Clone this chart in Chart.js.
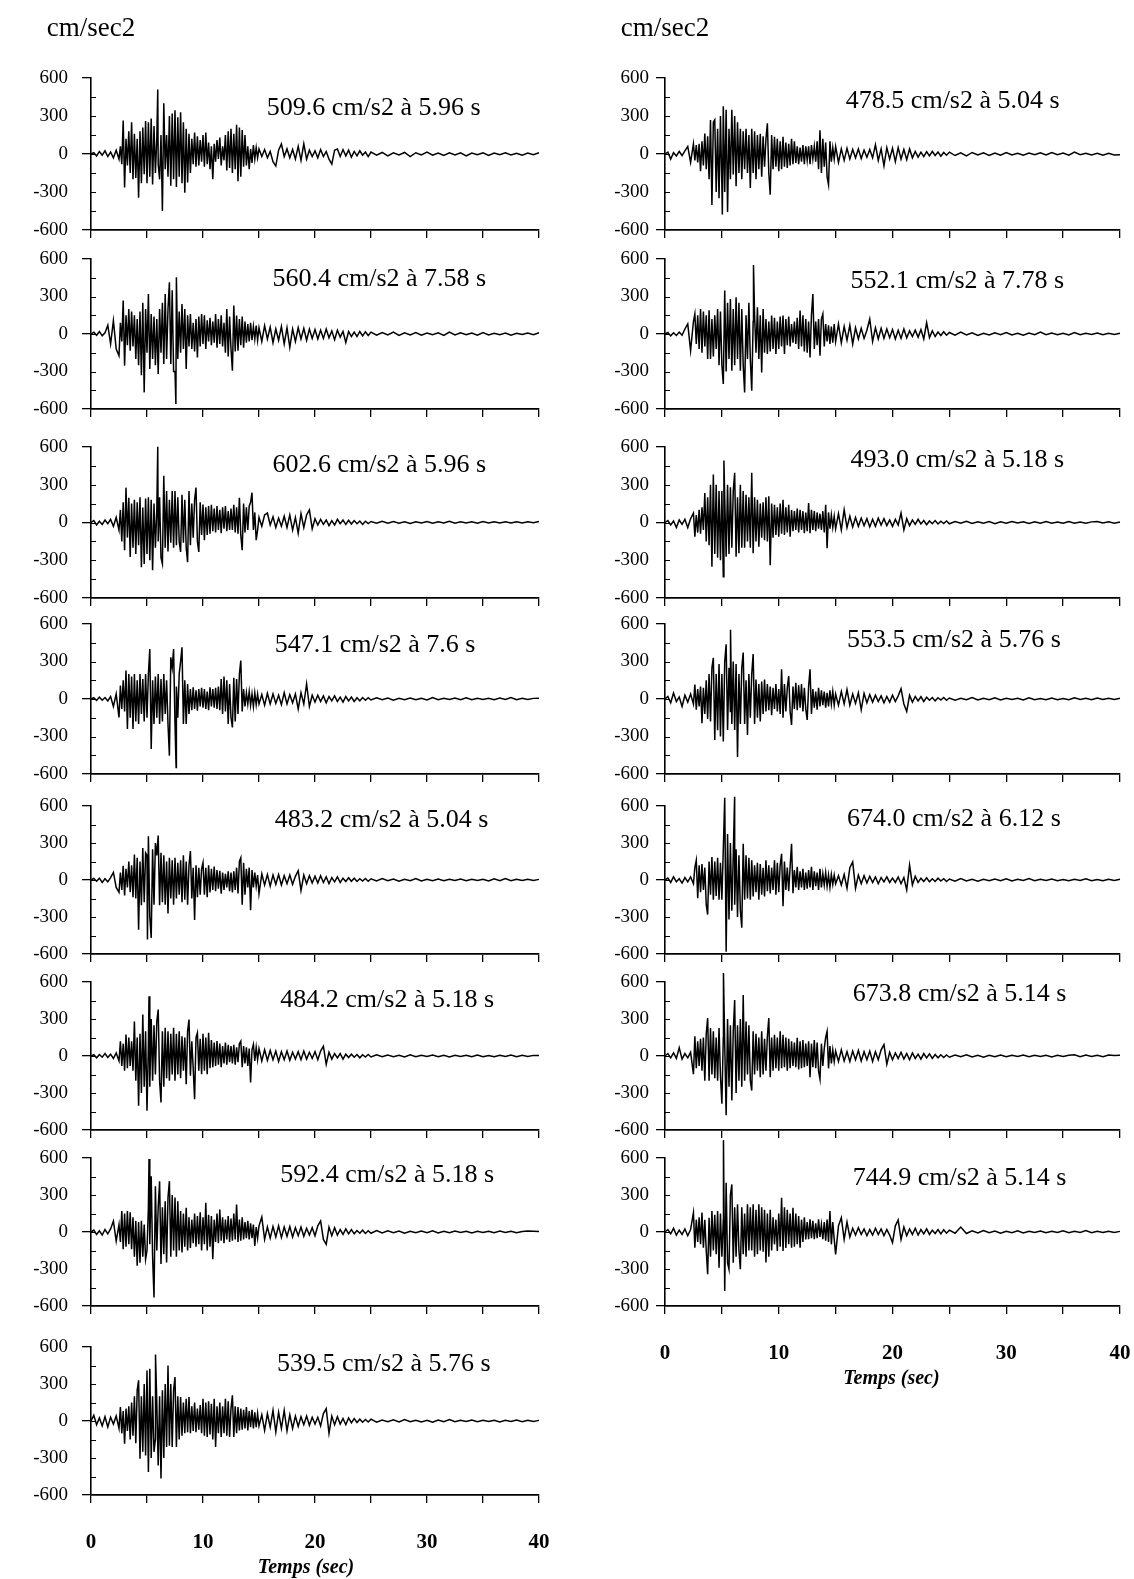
<!DOCTYPE html>
<html>
<head>
<meta charset="utf-8">
<title>Accélérogrammes</title>
<script src="https://cdn.jsdelivr.net/npm/chart.js@4.4.0/dist/chart.umd.min.js"></script>
<style>
  html, body { margin: 0; padding: 0; background: #fff; }
  #page { position: relative; width: 1134px; height: 1579px; overflow: hidden; background: #fff; }
  .panel { position: absolute; }
  .panel canvas { display: block; }
</style>
</head>
<body>
<div id="page"></div>
<script>
// ---- Sampling of the records: [start, end, step] in seconds ----
const sampleSegments = [[0, 2.5, 0.25], [2.5, 15, 0.125], [15, 25, 0.25], [25, 40, 0.5]];

// ---- Accelerations (cm/s2), one list per sampling segment ----
const accelL1 = [
  [0, 10, -15, 20, -10, 25, -20, 15, -30, 30],
  [-40, 60, -80, 265, -265, 120, -90, 180, -150, 250, -200, 160, -190, 120, -345, 180, -230, 210, -160, 260,
   -230, 250, -180, 280, -240, 220, -150, 120, -80, -200, 150, -450, 400, -120, 150, -180, 300, -250, 320, -200,
   345, -260, 290, -180, 330, -230, 250, -305, 200, -225, 160, -150, 120, -80, 170, -100, 140, -90, 110, -60,
   150, -100, 170, -80, 90, -120, 60, -200, 80, -60, 110, -40, 130, -90, 60, -50, 150, -130, 180, -110,
   200, -150, 160, -120, 230, -215, 210, -180, 190, -100, 150, -90, 60, -120, 40, -70, 70, -40, 50, -30],
  [40, -20, 35, -30, 20, -60, -95, 30, 80, -20, 40, -30, 35, -40, 60, -50, 80, -40, 30, -20,
   25, -30, 35, -20, 20, -40, -80, 30, 40, -20, 35, -15, 30, -25, 20, -15, 25, -10, 15, -20],
  [15, -10, 12, -15, 10, -8, 12, -20, 10, -8, 15, -10, 8, -12, 10, -8, 10, -15, 8, -6, 10, -12, 8, -5, 10, -8, 6, -10, 8, -5, 10]
];
const accelL2 = [
  [0, 15, -10, 20, -15, 10, 70, -80, 107, -120],
  [-173, 90, -60, 267, -253, 150, -90, 200, -133, 180, -100, 150, -200, 120, -250, 180, -330, 250, -467, 200,
   -150, 320, -280, 160, -200, 140, -250, 120, -320, 200, -150, 250, -240, 320, -200, 200, 413, -240, 350, -300,
   -300, 453, -200, 180, -150, 240, -120, 200, -280, 150, -100, 160, -120, 90, -140, 120, -187, 140, -100, 160,
   -80, 150, -120, 110, -60, 130, -90, 100, -70, 160, -110, 120, -80, 150, -100, 90, -150, 200, -180, 140,
   -120, -293, 227, -140, 147, -133, 120, -90, 140, -110, 100, -70, 80, -60, 90, -50, 60, -40, 67, -50],
  [50, -60, 67, -40, 55, -70, 40, -50, 60, -80, 50, -107, 40, -60, 50, -40, 45, -50, 40, -35,
   35, -40, 30, -35, 40, -30, 25, -45, 30, -25, 20, -67, 20, -20, 15, -20, 20, -15, 18, -12],
  [15, -10, 12, -8, 15, -12, 10, -8, 12, -10, 8, -6, 10, -12, 15, -8, 10, -6, 8, -10, 12, -8, 6, -5, 8, -10, 6, -4, 8, -5, 10]
];
const accelL3 = [
  [0, 15, -20, 10, -15, 20, -10, 25, -30, 40],
  [-60, 100, -150, 160, -220, 277, -120, 196, -274, 150, -200, 180, -250, 160, -180, 200, -355, 120, -330, 190,
   -250, 200, -300, 180, -380, 150, -200, 100, -150, 200, -280, -328, 371, -200, 250, -230, 180, -160, 250, -200,
   250, -180, 200, -150, -234, 220, -160, 180, -200, -315, 250, -180, 150, -120, 180, 277, -150, -234, 160, -100,
   143, -140, 120, -100, 130, -90, 140, -70, 110, -80, 130, -60, 100, -86, 120, -50, 130, -70, 90, -60,
   110, -60, 140, -80, 120, -90, 196, -100, -220, 150, -80, 120, -60, 130, 160, 237, -60, 80, -140, -60],
  [40, -30, 60, 75, -20, 45, -40, 35, -30, 50, -40, 60, -60, 40, -86, 70, -40, 60, 100, -50,
   30, -20, 25, -15, 20, -25, 15, -20, 25, -10, 20, -15, 18, -12, 15, -10, 12, -15, 10, -8],
  [8, -6, 10, -5, 8, -6, 5, -8, 6, -4, 8, -5, 6, -4, 10, -5, 6, -4, 5, -6, 8, -4, 5, -3, 6, -4, 5, -3, 6, -2, 8]
];
const accelL4 = [
  [0, 10, -12, 15, -10, 12, -15, 20, -60, 40],
  [-147, 107, -80, 150, -100, 227, -240, 200, -150, 180, -240, 200, -180, 150, -200, 200, -120, 160, -180, 200,
   -150, 200, 400, -400, 150, -200, 180, -150, 200, -200, 160, -180, 200, -120, 150, -200, -453, 333, 250, 400,
   -200, 100, -150, 200, 300, 413, -200, 150, -200, 120, -120, 80, -90, 93, -80, 70, -93, 80, -60, 90,
   -70, 80, -80, 60, -90, 93, -60, 80, -70, 90, -80, 100, -90, 160, -120, 180, -100, 150, -200, 120,
   -150, -227, 170, -180, 160, -120, 200, 307, -100, 80, -60, 50, -40, 60, -50, 40, -60, 50, -45, 40],
  [-40, 35, -50, 45, -40, 40, -35, 30, -45, 50, -40, 35, -30, 40, -80, 50, -40, 120, -60, 30,
   -25, 30, -20, 25, -30, 20, -15, 25, -20, 15, -25, 20, -15, 15, -20, 10, -15, 12, -10, 10],
  [-8, 10, -6, 8, -10, 6, -5, 8, -6, 5, -8, 12, -5, 6, -4, 8, -6, 10, -5, 6, -4, 5, -6, 8, -4, 12, -5, 6, -4, 5, 6]
];
const accelL5 = [
  [0, 12, -10, 15, -20, 10, -15, 20, 61, -60],
  [-100, 60, -80, 115, -125, 90, -60, 150, -100, 120, -140, 207, -150, 180, -404, 150, -205, 260, -180, 220,
   200, 354, -300, -470, 250, -200, 300, 200, 360, -205, 220, -180, 200, -200, 150, -271, 180, -150, 160, -200,
   180, -150, 140, -120, 160, -180, 200, -160, 150, -200, 120, 234, -150, 100, -325, 120, -140, 100, -120, 90,
   140, -120, 100, -140, 120, -100, 90, -80, 110, -90, 80, -70, 75, -112, 60, -80, 50, -60, 70, -90,
   60, -100, 70, -80, 100, -110, 150, 180, -200, 140, -120, 90, -60, 100, -245, 80, -60, 61, -50, 40],
  [-112, 50, -40, 45, -50, 40, -35, 45, -40, 35, -30, 40, -35, 30, 75, -85, 40, -30, 35, -25,
   30, -25, 35, -20, 25, -30, 20, -15, 25, -20, 15, -12, 18, -10, 15, -12, 10, -8, 12, -10],
  [10, -8, 12, -6, 8, -10, 6, -5, 12, -8, 6, -5, 8, -6, 5, -4, 8, -6, 5, -4, 6, -8, 10, -5, 12, -6, 5, -4, 6, -4, 5]
];
const accelL6 = [
  [0, 10, -15, 12, -10, 20, -12, 15, -20, 25],
  [-40, 120, -80, 100, -120, 175, -100, 150, -80, 120, -120, 280, -200, 150, -403, 180, -300, 336, -250, 200,
   -444, 100, -250, 300, -200, 250, -150, 280, 377, -200, -377, 200, -250, 229, -180, 200, -200, 180, -150, 229,
   -200, 180, -150, 200, -180, 160, -120, 150, -229, 200, 296, -160, 120, -100, -350, 150, 188, -120, 140, -148,
   180, -120, 150, -148, 188, -100, 130, -90, 110, -80, 121, -70, 100, -90, 80, -60, 110, -70, 90, -50,
   80, -60, 90, -70, 70, -50, 100, 121, -90, 80, -60, 70, -80, 60, -215, 50, 94, -40, 70, -30],
  [60, -40, 50, -35, 45, -30, 40, -45, 35, -30, 40, -35, 30, -25, 35, -30, 40, -25, 30, -20,
   35, -30, 40, 80, -67, 30, -25, 20, -15, 20, -25, 15, -12, 15, -10, 12, -15, 10, -8, 12],
  [-8, 10, -6, 8, -5, 6, -8, 10, -6, 5, -4, 8, -6, 5, -8, 6, -4, 5, -6, 8, -5, 4, -6, 5, -4, 8, -5, 6, -4, 5, 4]
];
const accelL7 = [
  [0, 15, -20, 10, -25, 20, -15, 25, 89, -73],
  [60, -80, 170, -140, 150, -120, 170, -100, 160, -140, 120, -200, 90, -274, 80, -250, 90, -200, 60, -220,
   -150, 200, -100, 452, -200, -530, 371, -150, 200, 412, -260, 200, -180, 250, -247, 280, 412, -200, 300, -150,
   280, -200, 250, -150, 170, -167, 150, -120, 196, -150, 120, -130, 100, -90, 150, -120, 130, -100, 160, -150,
   120, -100, 237, -150, 140, -120, 130, -220, 100, -80, 150, -90, 183, -70, 120, -90, 100, -60, 130, -80,
   110, -70, 150, -60, 223, -80, 100, -70, 120, -60, 80, -50, 90, -60, 70, -50, 60, -113, 40, -50],
  [50, 121, -60, 40, -50, 45, -40, 50, -45, 40, -35, 45, -40, 35, -30, 40, -35, 30, -25, 35,
   -30, 50, 90, -60, -100, 40, -30, 35, -25, 20, -20, 25, -15, 20, -15, 12, -10, 15, -12, 10],
  [-10, 12, -8, 10, -6, 8, -10, 6, -5, 8, -6, 10, -8, 6, -5, 8, -4, 6, -8, 5, -4, 6, -5, 8, -4, 6, -5, 4, 8, 6, 5]
];
const accelL8 = [
  [0, 46, -30, 25, -40, 35, -49, 30, -25, 40],
  [-60, 113, -100, 80, -184, 100, -80, 120, -150, 150, -120, 200, -180, 250, 330, -305, 200, -250, 300, -280,
   410, -413, 424, -300, 200, -250, -150, 150, -360, 200, -467, 250, -300, 300, -210, 450, -200, 300, -210, 250,
   356, -210, 200, -150, 194, -120, 150, -100, 180, -90, 194, -100, 120, -80, 150, -90, 100, -70, 130, -100,
   181, -120, 150, -130, 160, -110, 140, -150, 181, -210, 120, -100, 150, -130, 120, -100, 180, -120, 160, -130,
   100, 208, -130, 120, -100, 113, -76, 100, -70, 90, -60, 113, -76, 80, -50, 90, -60, 70, -50, 60],
  [-40, 50, -76, 60, -50, 86, -89, 70, -60, 86, -80, 50, -60, 40, -45, 35, -30, 40, -35, 30,
   -25, 30, -40, 60, 100, -100, 40, -30, 35, -25, 20, -30, 25, -15, 20, -12, 15, -10, 12, -8],
  [15, -10, 8, -6, 10, -8, 12, -6, 5, -8, 6, -10, 8, -5, 12, -6, 5, -4, 8, -6, 5, -4, 6, -8, 5, -4, 8, -5, 6, -4, 5]
];
const accelR1 = [
  [0, 15, -40, 10, -15, 20, -12, 25, 60, -67],
  [80, -50, 70, -67, 80, -135, 100, -90, 161, -120, 140, -200, 269, -403, 250, 269, -300, 200, -350, 300,
   -250, 376, -300, 350, -457, 200, -200, 350, -161, 300, -255, 250, -150, 200, -200, 180, -120, 200, -150, 150,
   -269, 200, -150, 180, -200, 150, -120, 160, -180, 140, -100, 120, 242, -150, -322, 150, -120, 135, -100, 120,
   -135, 100, -120, 135, -100, 90, -110, 80, -90, 120, -80, 100, -70, 60, -80, 50, -60, 70, -80, 60,
   -50, 60, -80, 70, -40, 60, -60, 100, -120, 188, -150, 120, -100, 90, -180, -242, 100, -60, 50, -40],
  [60, -67, 40, -50, 45, -40, 35, -30, 40, -35, 30, -25, 35, -30, 73, -50, 40, -94, 50, -40,
   45, -60, 50, -40, 35, -45, 40, -30, 20, -25, 15, -20, 18, -15, 20, -12, 15, -18, 12, -10],
  [15, -12, 10, -15, 12, -8, 10, -12, 8, -10, 12, -8, 6, -10, 8, -6, 10, -8, 12, -6, 8, -10, 15, -5, 6, -8, 5, -10, 6, -8, -5]
];
const accelR2 = [
  [0, 12, -15, 10, -12, 15, -10, 40, 80, -133],
  [100, 160, -80, 150, -120, 200, -150, 180, -100, 150, -200, 190, -200, 120, -180, 150, -120, 200, -250, 180,
   -250, -400, 347, -300, 250, -200, 280, -293, 200, -250, 293, -200, 250, -293, 200, -250, -467, 150, -200, 250,
   -200, -453, 100, 150, -150, 213, -200, 150, -307, 200, -150, 120, -160, 100, -140, 147, -120, 130, -160, 100,
   -120, 140, -100, 147, -160, 120, -90, 140, -100, 80, -70, 100, -80, 130, -120, 187, -100, 150, -140, 120,
   -150, 100, -187, 150, 320, -120, 100, -90, 120, -173, 120, 160, -100, 80, -60, 70, -80, 60, -70, 80],
  [-60, 80, -70, 60, -50, 70, -80, 50, -40, 45, -35, 30, 120, -60, 50, -40, 45, -35, 40, -30,
   35, -40, 30, -35, 40, -30, 25, -20, 30, -25, 35, -40, 90, -30, 25, -20, 15, -12, 18, -10],
  [12, -10, 15, -8, 10, -12, 6, -8, 10, -5, 12, -8, 6, -10, 8, -5, 15, -6, 8, -5, 6, -8, 12, -6, 5, -4, 8, -6, 5, -4, 6]
];
const accelR3 = [
  [0, 15, -20, 12, -40, 20, -15, 25, -40, 30],
  [75, -112, 60, -80, 100, -90, 120, -60, 235, -150, 200, -180, 300, -352, 382, -250, 300, -280, 250, -300,
   250, -432, 200, -272, 300, -250, 280, -200, 250, 395, -272, 200, -245, 300, -200, 250, -200, 220, -150, 200,
   -200, 395, -245, 200, -150, 180, -192, 150, -120, 160, -140, 200, -150, 208, -340, 150, -120, 140, -100, 120,
   -112, 150, -90, 181, -100, 120, -80, 140, -112, 100, -70, 90, -60, 110, -80, 100, -60, 90, -85, 80,
   -70, 155, -85, 100, -60, 90, -70, 80, -50, 70, -60, 90, -80, 141, -205, 80, -50, 60, -40, 50],
  [-50, 70, -59, 101, -40, 50, -35, 40, -30, 35, -25, 30, -35, 25, -30, 35, -20, 30, -25, 20,
   -30, 25, -20, 75, -59, 30, -25, 20, -15, 25, -12, 15, -18, 12, -10, 15, -12, 10, -8, 12],
  [-10, 8, -6, 10, -8, 6, -5, 8, -10, 6, -5, 8, -4, 6, -8, 5, -6, 8, -5, 4, -6, 8, -5, 4, -6, 5, 8, -4, 6, -5, 4]
];
const accelR4 = [
  [0, 20, -30, 48, -20, 15, -60, 30, -25, 40],
  [-40, 115, -86, 80, -60, 100, -194, 90, -120, 150, -160, 200, -180, 250, 330, -328, 200, -250, 280, -300,
   200, -340, 300, 438, -247, 250, -100, -200, 300, -247, 280, -463, 200, -200, 250, 371, -200, 150, -288, 200,
   -150, 200, 360, -200, 156, -150, 120, -180, 140, -120, 156, -100, 120, -90, 100, -130, 90, -80, 120, -100,
   80, -120, 237, -150, 120, -100, 90, 183, -100, -207, 100, -80, 129, -90, 110, -70, 120, -100, 90, -80,
   -167, 100, 237, -120, 80, -70, 60, -86, 89, -60, 70, -50, 60, -70, 50, -60, 70, -40, 60, -50],
  [40, -50, 60, -40, 75, -50, 40, -35, 50, -86, 45, -30, 35, -25, 30, -20, 25, -30, 20, -25,
   30, -20, 25, 83, -40, -100, 30, -25, 20, -15, 18, -20, 15, -10, 12, -15, 10, -8, 12, -10],
  [8, -10, 6, -5, 12, -8, 6, -5, 10, -8, 5, -4, 6, -8, 10, -5, 4, -6, 8, -5, 4, -6, 10, -4, 5, -6, 8, -4, 5, -3, 6]
];
const accelR5 = [
  [0, 15, -20, 25, -15, 10, -25, 20, -15, 25],
  [-30, 100, 160, -147, 120, -100, 130, -80, 100, -200, -280, 150, -120, 187, -160, 150, -130, 180, -160, 140,
   -160, 250, 667, -581, 373, -320, 300, -250, 200, -200, 250, -300, 200, -250, -387, 293, -160, 200, -150, 180,
   -160, 160, -133, 120, -100, 140, -160, 130, -120, 100, -133, 160, -90, 120, -110, 100, -80, 160, -120, 140,
   -100, 120, 213, -213, 150, -80, 100, -90, 110, 293, -107, 80, -60, 107, -80, 70, -60, 90, -80, 60,
   -70, 80, -60, 107, -80, 70, -50, 60, -80, 90, -60, 50, -40, 60, -50, 40, -60, 45, -35, 40],
  [-30, 35, -40, 45, -67, 100, 147, -67, 40, -30, 35, -25, 30, -20, 25, -30, 20, -15, 25, -20,
   15, -20, 25, -30, 20, -80, 120, -40, 30, -20, 15, -12, 18, -15, 10, -12, 15, -8, 10, -12],
  [8, -10, 12, -8, 6, -10, 5, -6, 8, -5, 10, -8, 6, -4, 12, -6, 5, -4, 8, -6, 4, -5, 6, -4, 10, -5, 4, -6, 5, -3, 6]
];
const accelR6 = [
  [0, 20, -15, 25, -20, 67, -25, 20, -15, 30],
  [-147, 160, -100, 120, -80, 140, -120, 150, -200, 180, 307, -200, 227, -150, 200, -180, 150, -200, 227, -160,
   -387, 150, 100, -480, 300, -250, 250, -360, 200, 453, -300, 250, -200, 300, -250, 494, -200, 280, -150, 250,
   -200, -280, 200, -150, 180, -120, 150, -173, 200, -150, 140, -120, 160, 307, -173, 150, -120, 173, -100, 150,
   -120, 200, -100, 173, -90, 150, -120, 140, -100, 120, -80, 110, -90, 147, -110, 120, -100, 130, -90, 100,
   -80, 120, -173, 100, -90, 130, -100, 110, -120, -187, 100, -80, 60, 150, 200, -100, 80, -60, 50, -45],
  [40, -45, 50, -40, 35, -45, 40, -30, 45, -40, 35, -30, 40, -45, 35, -30, 50, 93, -67, 30,
   -30, 25, -20, 30, -25, 20, -30, 25, -20, 15, -25, 20, -15, 18, -20, 12, -15, 10, -12, 8],
  [-10, 8, -6, 10, -8, 6, -10, 5, -6, 8, -5, 6, -4, 8, -6, 5, -4, 6, -8, 5, -4, 6, 10, -5, 8, -4, 6, -5, 8, 4, 6]
];
const accelR7 = [
  [0, 20, -15, 30, -25, 15, -20, 25, -30, 20],
  [157, -127, 100, -80, 120, -100, 157, -127, 100, -150, -343, 116, -200, 170, -150, 140, -180, 170, -289, 150,
   -200, 100, -478, 400, -250, -302, 300, 386, -250, 200, -200, 224, -150, -302, 200, -180, 150, -200, 224, -150,
   200, -150, 224, -200, 180, -180, 224, -150, 200, -160, 180, -248, 150, -200, 180, -150, 120, -100, 100, -154,
   150, -120, 278, -154, 200, -130, 180, -100, 150, -127, 197, -120, 150, -100, 130, -127, 100, -80, 120, -60,
   80, -59, 103, -50, 90, -59, 70, -50, 103, -40, 60, -59, 80, -70, 100, -80, 170, -100, 80, -60],
  [-181, 50, 116, -60, 80, -40, 30, -25, 35, -20, 25, -30, 20, -25, 30, -20, 25, -30, 20, -25,
   -86, 50, 97, -60, 40, -30, 25, -20, 30, -25, 20, -15, 25, -20, 15, -12, 20, -15, 18, -10],
  [15, -10, 40, -12, 10, -8, 12, -6, 8, -10, 6, -5, 10, -8, 6, -4, 8, -6, 5, -4, 10, -5, 6, -4, 12, -6, 5, -4, 6, -3, 5]
];

// ---- Peak ground acceleration of each record (signed) and its time ----
const peakTimes  = [5.96, 7.58, 5.96, 7.6, 5.04, 5.18, 5.18, 5.76, 5.04, 7.78, 5.18, 5.76, 6.12, 5.14, 5.14];
const peakValues = [509.6, -560.4, 602.6, -547.1, -483.2, 484.2, 592.4, 539.5, -478.5, 552.1, 493.0, 553.5, 674.0, 673.8, 744.9];

const records = [accelL1, accelL2, accelL3, accelL4, accelL5, accelL6, accelL7, accelL8,
                 accelR1, accelR2, accelR3, accelR4, accelR5, accelR6, accelR7];

// ---- Axis ticks and titles ----
const yTickValues = [-600, -300, 0, 300, 600];
const xTickLabels = ['0', '10', '20', '30', '40'];
const unitLabel = 'cm/sec2';
const timeTitle = 'Temps (sec)';

// ---- Page layout (pixels) ----
const columns = [
  { left: 91, right: 539, rows: [0, 1, 2, 3, 4, 5, 6, 7], titleT: 19.2, yLabelGap: 14 },
  { left: 665, right: 1120, rows: [0, 1, 2, 3, 4, 5, 6], titleT: 19.9, yLabelGap: 7 }
];
const rowTops    = [78, 259, 447, 624, 806, 982, 1158, 1347];
const rowBottoms = [230, 409, 598, 774, 954, 1130, 1306, 1495];
// peak-label anchor per record, in axis units (left edge, vertical middle)
const noteAnchorT = [15.7, 16.2, 16.2, 16.4, 16.4, 16.9, 16.9, 16.6, 15.9, 16.3, 16.3, 16.0, 16.0, 16.5, 16.5];
const noteAnchorV = [362, 439, 456, 430, 486, 453, 461, 460, 416, 424, 495, 470, 495, 501, 438];

const SERIF = '"Liberation Serif", "Times New Roman", serif';

// time stamps of each sampling segment
const segmentTimes = sampleSegments.map(([a, b, dt]) => {
  const out = [];
  for (let k = 0; a + k * dt <= b + 1e-9; k++) {
    const t = +(a + k * dt).toFixed(3);
    if (t < b - 1e-9 || b === 40) out.push(t);
  }
  return out;
});

function buildPoints(segs, pT, pV) {
  const pts = [];
  segs.forEach((vals, s) => {
    const times = segmentTimes[s];
    const n = Math.min(vals.length, times.length);
    for (let i = 0; i < n; i++) pts.push({ x: times[i], y: vals[i] });
  });
  pts.push({ x: pT, y: pV });
  pts.sort((a, b) => a.x - b.x);
  return pts;
}

function noteText(i) {
  return Math.abs(peakValues[i]).toFixed(1) + ' cm/s2 à ' + String(peakTimes[i]) + ' s';
}

// small inward ticks on the acceleration axis and the panel texts
const panelDecor = {
  id: 'panelDecor',
  afterDraw(chart, args, o) {
    const { ctx, chartArea } = chart;
    const xs = chart.scales.x, ys = chart.scales.y;
    ctx.save();
    ctx.strokeStyle = '#000';
    ctx.lineWidth = 1;
    for (let v = -450; v <= 450; v += 150) {
      const y = Math.round(ys.getPixelForValue(v)) + 0.5;
      ctx.beginPath();
      ctx.moveTo(chartArea.left, y);
      ctx.lineTo(chartArea.left + 5, y);
      ctx.stroke();
    }
    ctx.fillStyle = '#000';
    ctx.font = '26px ' + SERIF;
    ctx.textAlign = 'left';
    ctx.textBaseline = 'middle';
    ctx.fillText(o.note, xs.getPixelForValue(o.noteT), ys.getPixelForValue(o.noteV));
    if (o.showUnit) {
      ctx.font = '27px ' + SERIF;
      ctx.textAlign = 'center';
      ctx.fillText(unitLabel, chartArea.left, chartArea.top - 49);
    }
    if (o.showTitle) {
      ctx.font = 'italic bold 20px ' + SERIF;
      ctx.textAlign = 'center';
      ctx.fillText(timeTitle, xs.getPixelForValue(o.titleT), chartArea.bottom + 73);
    }
    ctx.restore();
  }
};

const page = document.getElementById('page');

function makePanel(colIdx, row, recIdx) {
  const col = columns[colIdx];
  const isTop = row === 0;
  const isBottom = row === col.rows.length - 1;
  const padTop = 66, yAxisW = 90, padRight = 30;
  const xAxisH = isBottom ? 95 : 30;
  const PL = col.left, PR = col.right, PT = rowTops[row], PB = rowBottoms[row];
  const w = PR - PL + yAxisW + padRight;
  const h = PB - PT + padTop + xAxisH;

  const box = document.createElement('div');
  box.className = 'panel';
  box.style.left = (PL - yAxisW) + 'px';
  box.style.top = (PT - padTop) + 'px';
  box.style.width = w + 'px';
  box.style.height = h + 'px';
  const cv = document.createElement('canvas');
  cv.width = w; cv.height = h;
  cv.style.width = w + 'px'; cv.style.height = h + 'px';
  box.appendChild(cv);
  page.appendChild(box);

  new Chart(cv, {
    type: 'line',
    data: {
      datasets: [{
        data: buildPoints(records[recIdx], peakTimes[recIdx], peakValues[recIdx]),
        borderColor: '#000',
        borderWidth: 1.5,
        pointRadius: 0,
        tension: 0,
        fill: false,
        clip: false
      }]
    },
    options: {
      responsive: false,
      animation: false,
      events: [],
      layout: { padding: { top: padTop, right: padRight, left: 0, bottom: 0 } },
      plugins: {
        legend: { display: false },
        tooltip: { enabled: false },
        panelDecor: {
          note: noteText(recIdx),
          noteT: noteAnchorT[recIdx],
          noteV: noteAnchorV[recIdx],
          showUnit: isTop,
          showTitle: isBottom,
          titleT: col.titleT
        }
      },
      scales: {
        x: {
          type: 'linear',
          min: 0, max: 40,
          afterFit: s => { s.height = xAxisH; s.paddingLeft = 0; s.paddingRight = 0; },
          border: { display: true, color: '#000', width: 1.8 },
          grid: { drawOnChartArea: false, drawTicks: true, tickLength: 8, color: '#000', lineWidth: 1.3 },
          ticks: {
            display: isBottom,
            stepSize: 5,
            autoSkip: false,
            maxRotation: 0,
            color: '#000',
            padding: 27,
            font: { family: SERIF, size: 21, weight: 'bold' },
            callback: v => (v % 10 === 0 ? xTickLabels[v / 10] : '')
          }
        },
        y: {
          min: -600, max: 600,
          afterFit: s => { s.width = yAxisW; },
          border: { display: true, color: '#000', width: 1.6 },
          grid: {
            drawOnChartArea: false, drawTicks: true, tickLength: 9, lineWidth: 1.3,
            color: c => (c.tick && c.tick.value % 600 === 0 ? '#000' : 'rgba(0,0,0,0)')
          },
          ticks: {
            stepSize: 150,
            autoSkip: false,
            color: '#000',
            padding: col.yLabelGap,
            font: { family: SERIF, size: 19 },
            callback: v => (yTickValues.includes(v) ? String(v) : '')
          }
        }
      }
    },
    plugins: [panelDecor]
  });
}

let rec = 0;
columns.forEach((col, ci) => {
  col.rows.forEach(r => { makePanel(ci, r, rec); rec++; });
});
</script>
</body>
</html>
